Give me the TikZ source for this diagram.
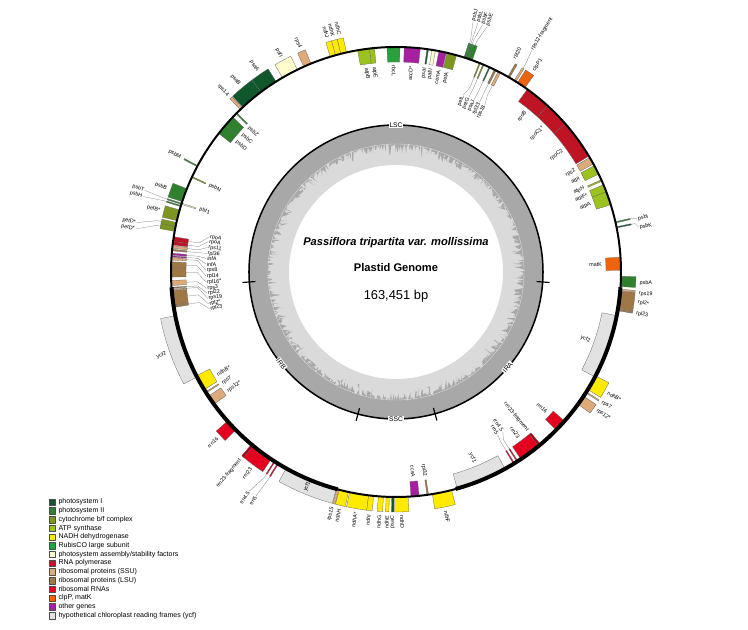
\documentclass[tikz,border=0pt]{standalone}
\usepackage{fontspec}
\setmainfont{Liberation Sans}
\definecolor{psi}{RGB}{16,88,44}
\definecolor{psii}{RGB}{46,130,46}
\definecolor{cyt}{RGB}{124,150,32}
\definecolor{atp}{RGB}{156,194,30}
\definecolor{ndh}{RGB}{255,234,0}
\definecolor{rbc}{RGB}{40,160,60}
\definecolor{asm}{RGB}{255,252,206}
\definecolor{rpo}{RGB}{190,20,36}
\definecolor{ssu}{RGB}{222,170,122}
\definecolor{lsu}{RGB}{160,120,70}
\definecolor{rrn}{RGB}{228,0,30}
\definecolor{clp}{RGB}{238,100,12}
\definecolor{oth}{RGB}{166,32,160}
\definecolor{ycf}{RGB}{226,226,226}
\definecolor{gclight}{RGB}{218,218,218}
\definecolor{gcdark}{RGB}{168,168,168}
\begin{document}
\begin{tikzpicture}[x=0.3mm, y=0.3mm, line join=round]
\tikzset{gene/.style={draw=black!60, line width=0.25pt},
  glabel/.style={font=\fontsize{4.6}{5}\selectfont, inner sep=0.6pt},
  leader/.style={draw=black!55, line width=0.2pt},
  region/.style={fill=white, inner sep=0.8pt, font=\fontsize{5.7}{6}\selectfont},
  keybox/.style={draw=black!70, line width=0.3pt, minimum size=5.5pt, inner sep=0pt}}
\useasboundingbox (-396,-358) rectangle (352,272);

% GC content ring
\pgfmathsetseed{7}
\fill[gclight, even odd rule] (0,0) circle[radius=147] (0,0) circle[radius=107];
\fill[gcdark, even odd rule] (0,0) circle[radius=147]
  plot[domain=0:360, samples=1000] (\x:{130-4*rnd-10*pow(rnd,3)}) -- cycle;
\draw[white!75!gray, line width=0.3pt] (0,0) circle[radius=128];
\draw[line width=1.3pt] (0,0) circle[radius=147];
\foreach \a in {183.9,255,285.4,356.1}
  \draw[line width=1pt] (\a:141) -- (\a:154);
\node[region] (lsc) at (90:147) {LSC};
\node[region, rotate=-51.4] (irb) at (218.6:147) {IRB};
\node[region] (ssc) at (270:147) {SSC};
\node[region, rotate=49.5] (ira) at (319.5:147) {IRA};

% title
\node[font=\fontsize{9.5}{11}\selectfont\bfseries\itshape] (title) at (0,29) {Passiflora tripartita var. mollissima};
\node[font=\fontsize{9.5}{11}\selectfont\bfseries] (sub) at (0,4) {Plastid Genome};
\node[font=\fontsize{11}{13}\selectfont] (size) at (0,-24) {163,451 bp};

% genes outside the circle
\foreach \s/\e/\c in {356.3/358.9/psii, 12.6/12.9/psii, 11.3/11.6/psi,
  70.2/71.3/psii, 71.3/71.7/psii, 71.7/72.0/psii, 72.0/72.4/psii,
  59.7/60.2/lsu, 57.8/58.3/ssu, 55.0/57.3/clp,
  102.7/104.2/ndh, 104.2/105.6/ndh, 105.6/107.0/ndh, 112.2/114.2/ssu, 116.0/120.3/asm,
  122.2/126.9/psi, 126.9/132.9/psi, 133.1/133.8/ssu, 151.8/152.1/psii, 158.3/161.8/psii,
  162.2/162.5/psii, 162.8/163.1/psii, 164.0/166.8/cyt, 167.3/168.4/cyt, 168.4/169.6/cyt,
  191.2/207.8/ycf, 221.5/224.6/rrn, 230.6/236.3/rrn, 230.0/230.6/rrn!75!black,
  237.2/237.5/rrn, 238.2/238.5/rrn, 240.8/254.6/ycf, 254.7/255.3/ssu,
  255.4/257.8/ndh, 258.1/263.0/ndh, 263.0/264.3/ndh, 265.5/266.8/ndh, 267.5/268.3/ndh,
  268.9/269.5/psi, 269.7/273.1/ndh, 279.3/284.3/ndh,
  324.0/326.5/ssu, 327.5/327.8/ssu, 328.5/332.5/ndh,
  350.1/350.5/lsu, 350.6/355.1/lsu, 355.2/355.6/ssu}
  \filldraw[gene, fill=\c] (\s:225) arc[start angle=\s, end angle=\e, radius=225]
    -- (\e:240) arc[start angle=\e, end angle=\s, radius=240] -- cycle;

% genes inside the circle
\foreach \s/\e/\c in {0.4/3.8/clp, 17.4/20.9/atp, 20.9/22.8/atp, 23.8/24.2/atp, 25.8/28.2/atp,
  28.7/30.6/ssu, 31.0/41.2/rpo, 41.2/47.7/rpo, 47.7/54.3/rpo,
  62.3/63.0/ssu, 63.6/64.1/lsu, 65.3/65.6/psi, 67.0/67.3/cyt, 68.0/68.3/cyt,
  74.4/76.9/cyt, 77.1/79.0/oth, 79.9/80.8/asm, 81.7/82.1/psi,
  83.8/87.9/oth, 89.0/92.3/rbc, 95.5/96.8/atp, 96.8/99.8/atp,
  135.0/135.3/psii, 136.5/139.3/psii, 139.3/142.0/psii, 154.9/155.2/cyt, 162.2/162.5/asm,
  171.0/172.2/rpo, 172.2/173.1/rpo, 173.3/173.95/ssu, 174.2/174.6/lsu, 175.2/175.7/oth,
  175.9/176.2/oth, 176.35/176.95/ssu, 177.4/178.95/lsu, 178.95/181.3/lsu, 182.15/183.45/ssu,
  183.9/184.15/lsu, 184.35/184.6/ssu, 184.75/188.5/lsu, 188.55/189.05/lsu,
  207.5/211.5/ndh, 212.2/212.5/ssu, 213.5/216.0/ssu,
  273.8/275.9/oth, 277.9/278.3/lsu, 285.8/299.0/ycf,
  301.5/301.8/rrn, 302.5/302.8/rrn, 303.7/309.4/rrn, 309.4/310.0/rrn!75!black, 315.4/318.5/rrn,
  332.2/348.8/ycf}
  \filldraw[gene, fill=\c] (\s:210) arc[start angle=\s, end angle=\e, radius=210]
    -- (\e:225) arc[start angle=\e, end angle=\s, radius=225] -- cycle;

% genome circle, IRs thicker
\draw[line width=1.7pt] (0,0) circle[radius=225];
\draw[line width=3.4pt] (183.9:225) arc[start angle=183.9, end angle=255, radius=225];
\draw[line width=3.4pt] (285.4:225) arc[start angle=285.4, end angle=356.1, radius=225];

% labels outside
\foreach \a/\t [count=\i] in {357.4/psbA, 354.9/rps19, 352.8/rpl2*, 350.2/rpl23,
  60.9/rpl20, 55.6/clpP1, 103.4/ndhC, 104.9/ndhK, 106.3/ndhJ, 113.2/rps4, 118.1/pafI,
  124.5/psaA, 129.9/psaB, 133.6/rps14, 152.0/psbM, 160.0/psbB, 165.4/petB*,
  199.5/ycf2, 223.0/rrn16, 230.3/rrn23-fragment, 233.5/rrn23,
  254.9/rps15, 256.6/ndhH, 260.5/ndhA*, 263.6/ndhI, 266.1/ndhG, 267.9/ndhE, 269.2/psaC,
  271.4/ndhD, 281.8/ndhF, 325.5/rps12*, 327.7/rps7, 330.3/ndhB*}{
  \pgfmathtruncatemacro\lft{and(\a>90,\a<270)}
  \ifnum\lft=1 \def\an{east}\def\rot{\a-180}\else\def\an{west}\def\rot{\a}\fi
  \node[glabel, rotate=\rot, anchor=\an] (out\i) at (\a:243) {\t};
}
\foreach \g/\a/\r/\t [count=\i] in {72.2/72.9/262/psbJ, 71.85/71.8/262/psbL,
  71.5/70.7/262/psbF, 70.75/69.6/262/psbE, 58.05/58.5/260/rps12-fragment,
  12.75/12.4/247/psbI, 11.45/10.4/247/psbK, 162.35/162.0/264/psbT, 162.95/163.4/264/psbH,
  167.85/169.2/264/petD*, 169.0/170.6/264/petD*, 237.35/236.2/264/rrn4.5, 238.35/238.0/264/rrn5}{
  \pgfmathtruncatemacro\lft{and(\a>90,\a<270)}
  \ifnum\lft=1 \def\an{east}\def\rot{\a-180}\else\def\an{west}\def\rot{\a}\fi
  \node[glabel, rotate=\rot, anchor=\an] (lo\i) at (\a:\r) {\t};
  \draw[leader] (\g:240) -- (\g:244) -- (lo\i.\an);
}

% labels inside
\foreach \a/\t [count=\i] in {2.1/matK, 19.1/atpA, 21.8/atpF*, 24.0/atpH, 27.0/atpI,
  29.6/rps2, 36.1/rpoC2, 44.5/rpoC1*, 51.0/rpoB,
  75.6/petA, 78.0/cemA, 80.2/pafII, 82.0/psaI, 85.8/accD*, 90.6/rbcL, 96.1/atpE, 98.3/atpB,
  135.6/psbZ, 138.2/psbC, 140.8/psbD, 155.1/psbN, 162.35/pbf1,
  209.8/ndhB*, 212.6/rps7, 215.3/rps12*, 274.8/ccsA, 278.1/rpl32, 292.4/ycf1,
  306.5/rrn23, 309.7/rrn23-fragment, 317.0/rrn16, 340.5/ycf2}{
  \pgfmathtruncatemacro\lft{and(\a>90,\a<270)}
  \ifnum\lft=1 \def\an{west}\def\rot{\a-180}\else\def\an{east}\def\rot{\a}\fi
  \node[glabel, rotate=\rot, anchor=\an] (in\i) at (\a:207) {\t};
}
\foreach \g/\a/\r/\t [count=\i] in {68.15/69.2/189/petL, 67.15/67.4/189/petG,
  65.45/65.6/189/psaJ, 63.85/63.8/189/rpl33, 62.65/62.0/189/rps18,
  171.6/169.3/190/rpoA, 172.65/170.8/190/rpoA, 173.6/172.6/190/rps11, 174.4/174.4/190/rpl36,
  175.45/175.9/190/infA, 176.05/177.6/190/infA, 176.65/179.5/190/rps8, 178.2/181.2/190/rpl14,
  180.1/183.1/190/rpl16*, 182.8/184.9/190/rps3, 184.0/186.4/190/rpl22, 184.45/188.0/190/rps19,
  186.6/189.7/190/rpl2*, 188.8/191.2/190/rpl23,
  302.65/303.8/192/rrn4.5, 301.65/302.0/192/rrn5}{
  \pgfmathtruncatemacro\lft{and(\a>90,\a<270)}
  \ifnum\lft=1 \def\an{west}\def\rot{\a-180}\else\def\an{east}\def\rot{\a}\fi
  \node[glabel, rotate=\rot, anchor=\an] (li\i) at (\a:\r) {\t};
  \draw[leader] (\g:210) -- (\g:199) -- (li\i.\an);
}
\node[glabel, rotate=67.5] (ycfone) at (247.5:232.5) {ycf1};

% legend
\foreach \c/\t [count=\i] in {psi/photosystem I, psii/photosystem II, cyt/{cytochrome b/f complex},
  atp/ATP synthase, ndh/NADH dehydrogenase, rbc/RubisCO large subunit,
  asm/{photosystem assembly/stability factors}, rpo/RNA polymerase,
  ssu/ribosomal proteins (SSU), lsu/ribosomal proteins (LSU), rrn/ribosomal RNAs,
  clp/{clpP, matK}, oth/other genes, ycf/hypothetical chloroplast reading frames (ycf)}{
  \node[keybox, fill=\c] (key\i) at (-344, {-230-(\i-1)*8.73}) {};
  \node[font=\fontsize{6}{7}\selectfont, anchor=west, inner sep=0pt] (keytext\i) at (-337.7, {-230-(\i-1)*8.73}) {\t};
}
\end{tikzpicture}
\end{document}
